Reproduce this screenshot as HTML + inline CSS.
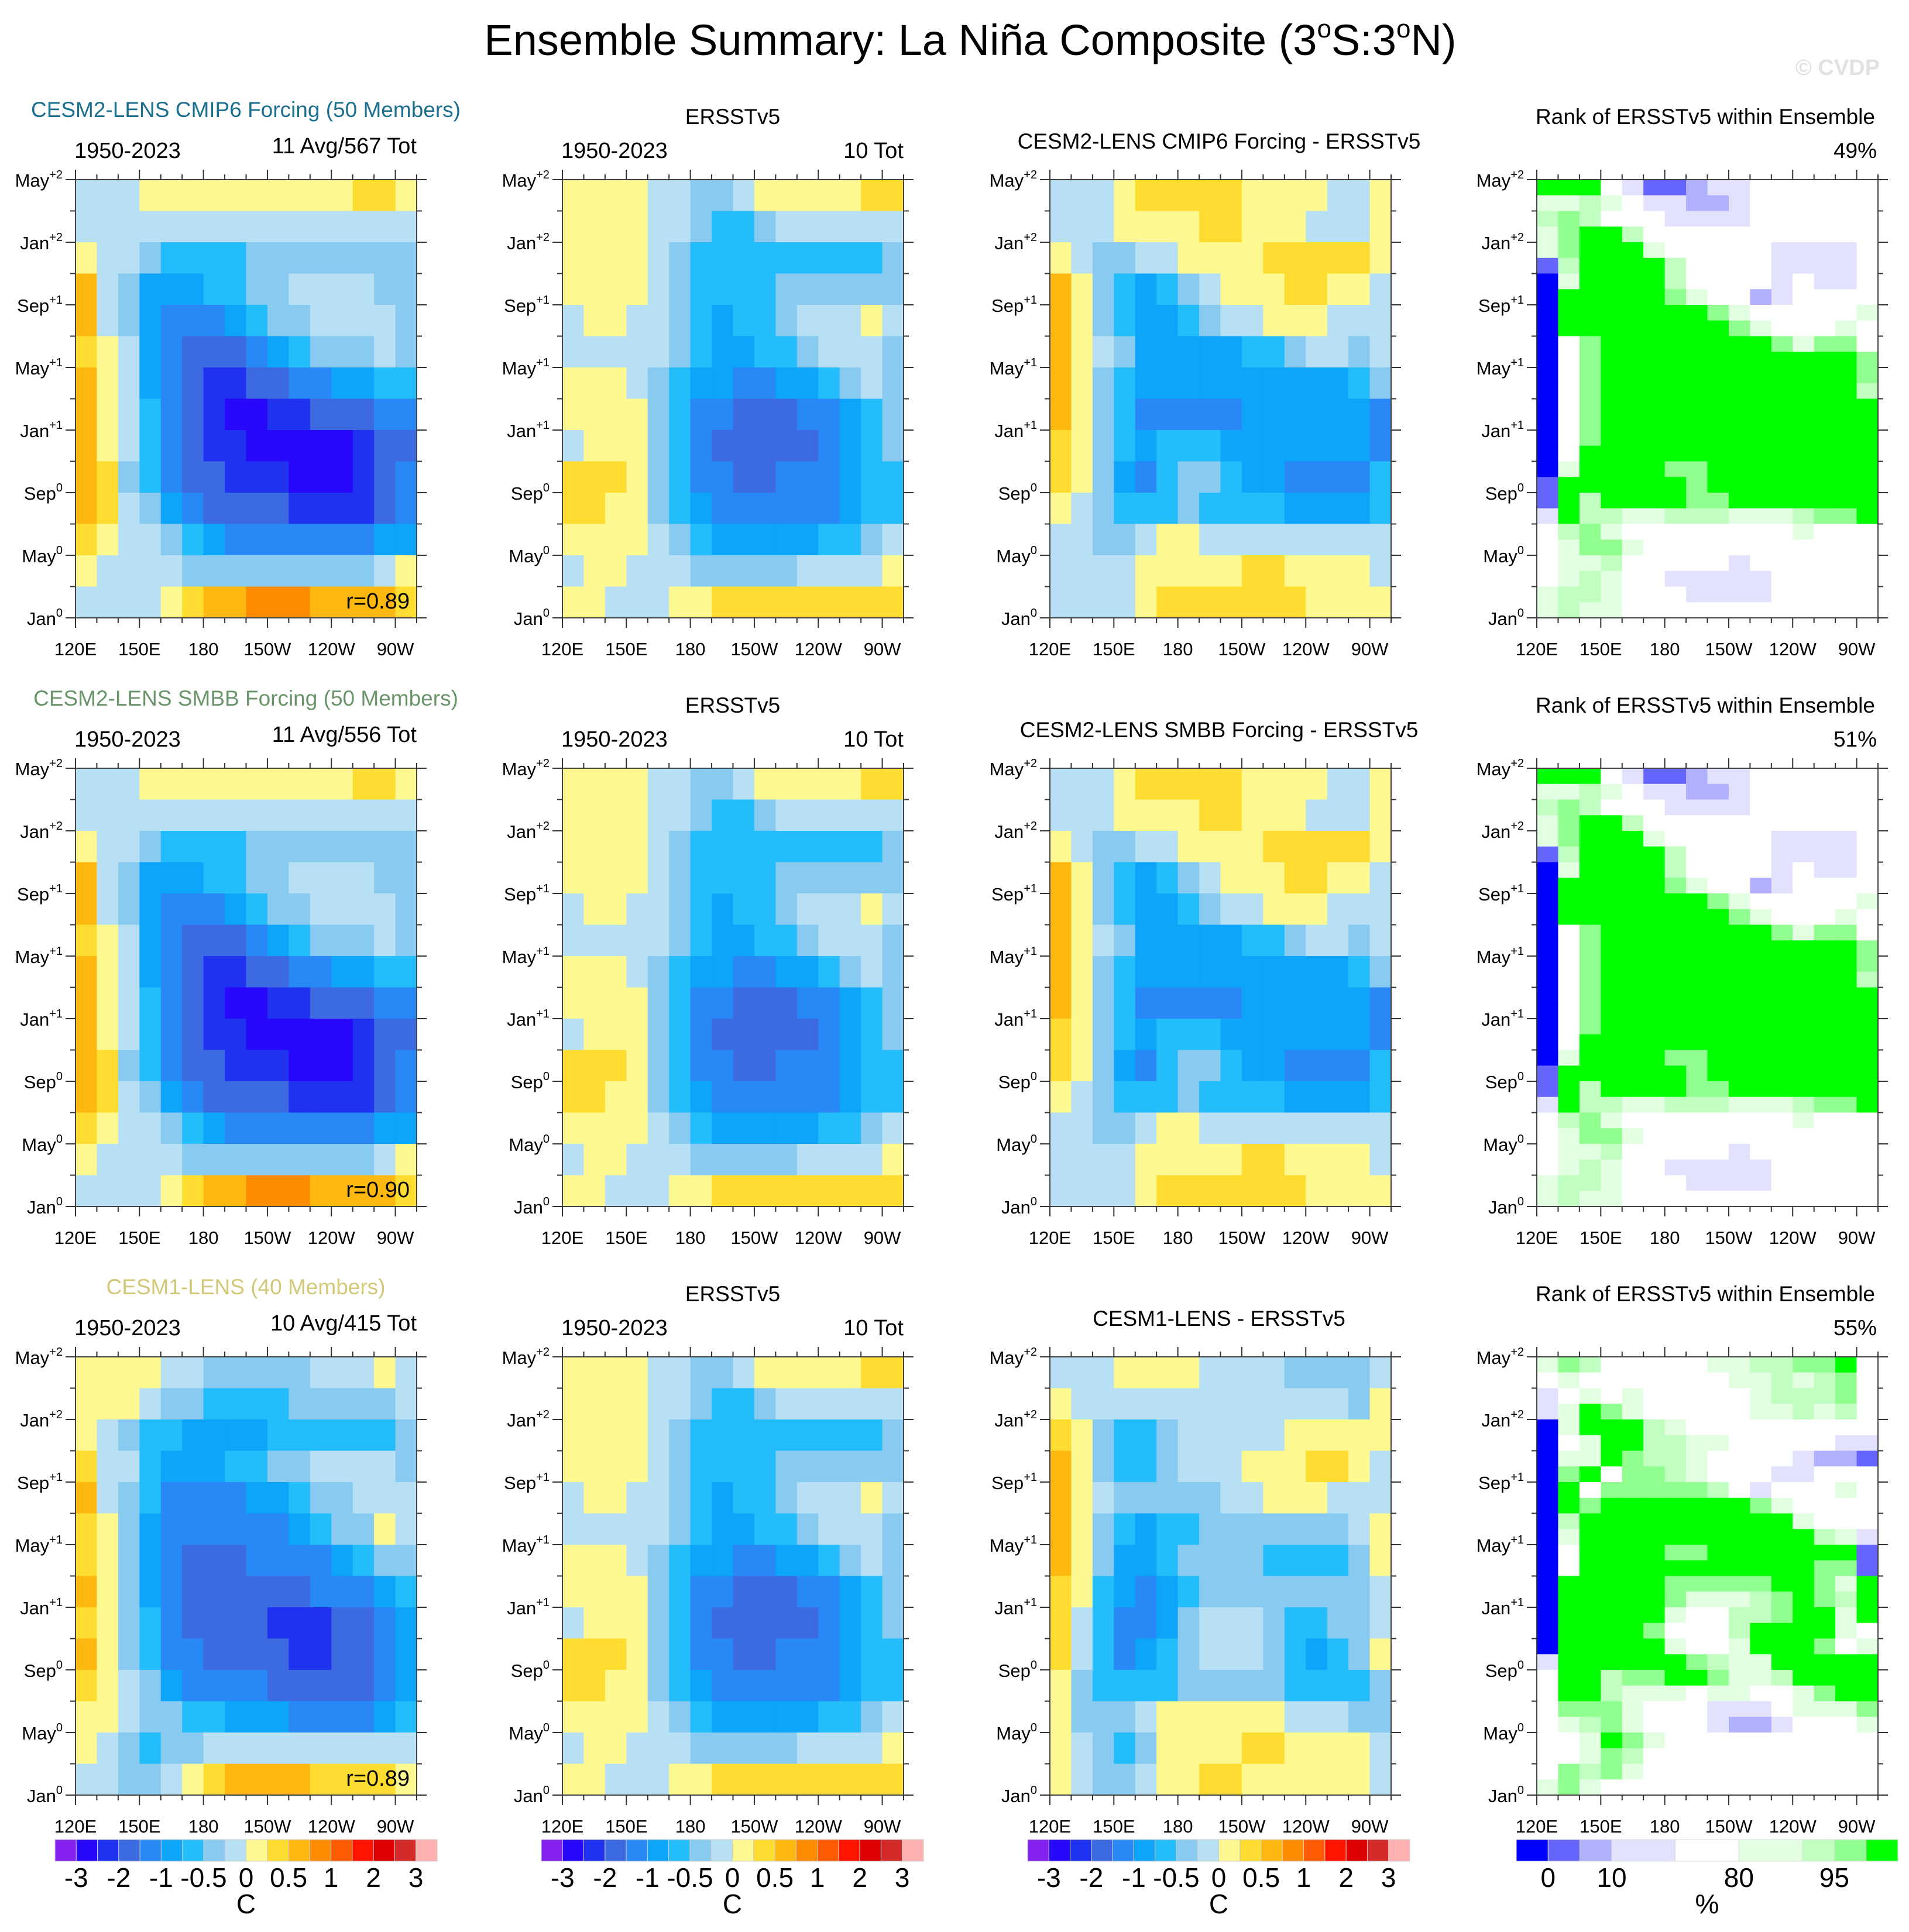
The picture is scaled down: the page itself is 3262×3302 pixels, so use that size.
<!DOCTYPE html>
<html><head><meta charset="utf-8"><title>Ensemble Summary: La Niña Composite</title>
<style>
html,body{margin:0;padding:0;background:#fff;}
svg{display:block;font-family:"Liberation Sans",Arial,sans-serif;}
</style></head>
<body>
<svg id="fig" xmlns="http://www.w3.org/2000/svg" width="3262" height="3302" viewBox="0 0 3262 3302">
<rect x="0" y="0" width="3262" height="3302" fill="#fff"/>
<text x="1658" y="94" font-size="74" text-anchor="middle" fill="#000">Ensemble Summary: La Niña Composite (3<tspan font-size="44" dy="-30">o</tspan><tspan dy="30">S:3</tspan><tspan font-size="44" dy="-30">o</tspan><tspan dy="30">N)</tspan></text>
<text x="3212" y="128" font-size="38" font-weight="bold" text-anchor="end" fill="#e2e2e2">© CVDP</text>
<g id="layer"></g>
</svg>
<script>
// ---- data: temperature level codes (A..R = bins of colorbar, top row = May+2, bottom = Jan0, 16 lon columns 120E..80W)
const tempLevels = [-3,-2.5,-2,-1.5,-1,-0.75,-0.5,-0.25,0,0.25,0.5,0.75,1,1.5,2,2.5,3];
const tempLabels = ["-3","-2","-1","-0.5","0","0.5","1","2","3"];
const tempLabelIdx = [0,2,4,6,8,10,12,14,16];
const tempColors = ["#8420f0","#2808fa","#1e32f0","#3c6ae0","#2888f5","#0ca5fa","#22bdfa","#88caf0","#b8e0f4","#fef890","#ffdc30","#ffb810","#ff8c00","#ff5a00","#ff1400","#dc0000","#d42a2a","#ffb0b0"];
const rankLabels = ["0","10","80","95"];
const rankLabelIdx = [1,3,5,7];
const rankWidths = [1,1,1,2,2,2,1,1,1];
const rankColors = ["#0000ff","#6666ff","#b0b0ff","#e2e2ff","#ffffff","#e2ffe2","#c0ffc0","#90ff90","#00ff00"];

const gridM1 = ["IIIJJJJJJJJJJKKJ","IIIIIIIIIIIIIIII","JIIHGGGGHHHHHHHH","LIHFFFGGHHIIIIHH","LIHFEEEFGHHIIIIH","KJIFEDDDEFGHHHIH","LJIFEDCCDDEEFFGG","LJIGEDCBBCCDDDEE","LJIGEDCCBBBBBCDD","LKHGEDDCCCBBBCDE","LKIHFEDDDDCCCCDE","KJIIHGFEEEEEEEFF","JIIIIHHHHHHHHHIJ","IIIIJKLLMMMLLLLK"];
const gridE = ["JJJJIIHHIJJJJJKK","JJJJIIHGGHIIIIII","JJJJIHGGGGGGGGGH","JJJJIHGGGGHHHHHH","IJJIIHGFGGHIIIJI","IIIIIHGFFGGHIIIH","JJJIHGFFEEFFGHIH","JJJJHGEEDDDEEFGH","IJJJHGEDDDDDEFGH","KKKJHGEEDDEEEFGG","KKJJHGFEEEEEEFGG","JJJJIHGFFFFFGGHI","IJJIIIHHHHHIIIIJ","JJIIIJJKKKKKKKKK"];
const gridD1 = ["IIIJKKKKKJJJJIIJ","IIIJJJJKKJJJIIIJ","JIHHIIJJJJKKKKKJ","LJHGFGHIJJJKKJJI","LJHGFFGHIIJJJIII","LJIHFFFFFGGHIIHI","LJHGFFFFFFFFFFGH","LJHGEEEEEFFFFFFE","KJHGFGGGFFFFFFFE","KJHFEGHHGFFEEEEG","JIHGGGHGGGGFFFFG","IIHHIJJIIIIIIIII","IIIIJJJJJKKJJJJI","IIIIJKKKKKKKJJJJ"];
const gridM3 = ["JJJJIIHHHHHIIIJI","JJJIHHGGGGHHHHHI","JIHGGFFFFGGGGGGH","KIIGFFFGGHHIIIIH","LIHGEEEEFFGHHIII","KJHFEEEEEEFGHHJI","KJHFEDDDEEEEFGHH","LJHFEDDDDDDEEEFG","KJHGEDDDDCCCDDEF","LJHGEEDDDDCCDDEF","KJIHFEEEEDDDDDEF","JJIHHGGFFFEEEEFG","JIHGHHIIIIIIIIII","IIHHIJKLLLLKKKKJ"];
const gridD3 = ["IIIJJJJIIIIHHHHI","JIIIIIIIIIIIIIHJ","KJHGGHIIIIIJJJJJ","LJHGGHIIIJJJKKJI","LJIHHHHHIIJJJIII","LJHGFGGHHHHHHHIJ","LJHFFGHHHHGGGGHJ","KJGFEFGHHHHHHHHI","KIGEEFHIIIHGGHHI","KIGEFGHIIIHGFGHJ","JHGGGGHHHHHGGGGH","JHHHIJJJJJJIIIHH","JIHGHJJJJKKJJJJI","JIHHIJJKKJJJJJJI"];
// rank codes 0..8 (0 = <0%, 4 = white, 8 = >=99%), 28 monthly rows top->bottom
const gridR1 = ["8884311233444444","5565433223444444","6764443333444444","5788644444444444","5788854444433334","1688886444433334","0588886444434334","0888887544234444","0888888875444445","0888888887544454","0478888888875774","0478888888888887","0478888888888887","0478888888888886","0478888888888888","0478888888888888","0478888888888888","0488888888888888","0588887788888888","1888888788888888","1868888778888888","3866556665556778","4675444444445444","4577544444444444","4556444443444444","4565443333344444","5665444333344444","5655444444444444"];
const gridR3 = ["5764444455667784","4544444445565674","3454544444566674","3587544444556564","0588865444444444","0458866554444433","0558766544443221","0784776544433444","0847777764344454","0878888888754444","0688888888885444","0588888888888653","0488887788888881","0488888888888771","0888887777788758","0888887555678768","0888885446678858","0888874446888854","0888885445888745","3888888765588888","4886778875568888","4886555455445788","4777544433345557","4567544432234445","4458754444444444","4457644444444444","4767544444444444","5754444444444444"];

const rowHeaders = ["CESM2-LENS CMIP6 Forcing (50 Members)","CESM2-LENS SMBB Forcing (50 Members)","CESM1-LENS (40 Members)"];
const rowHeaderColors = ["#1b6f8f","#6a956a","#d2c878"];
const diffTitles = ["CESM2-LENS CMIP6 Forcing - ERSSTv5","CESM2-LENS SMBB Forcing - ERSSTv5","CESM1-LENS - ERSSTv5"];
const avgTot = ["11 Avg/567 Tot","11 Avg/556 Tot","10 Avg/415 Tot"];
const corrVals = ["r=0.89","r=0.90","r=0.89"];
const rankPct = ["49%","51%","55%"];
const lonTicks = [120,150,180,210,240,270];
const lonTickLabels = ["120E","150E","180","150W","120W","90W"];
const monthTicks = [0,4,8,12,16,20,24,28];
const monthNames = ["Jan","May","Sep","Jan","May","Sep","Jan","May"];
const monthSups = ["0","0","0","+1","+1","+1","+2","+2"];

const NS="http://www.w3.org/2000/svg";
const layer=document.getElementById('layer');
function mk(tag,attrs,parent){const e=document.createElementNS(NS,tag);for(const k in attrs)e.setAttribute(k,attrs[k]);(parent||layer).appendChild(e);return e;}
const colX=[129,961,1794,2626], rowY=[307,1313,2319], PW=583, PH=749;
const LON0=120, LON1=280, MON=28;
function xScale(left,lon){return left+(lon-LON0)/(LON1-LON0)*PW;}
function yScale(top,m){return top+PH-(m/MON)*PH;}

function drawGrid(g,left,top,grid,colors,decode){
  const nr=grid.length,nc=grid[0].length;
  const cw=(LON1-LON0)/nc, rh=MON/nr;
  for(let r=0;r<nr;r++)for(let c=0;c<nc;c++){
    const k=decode(grid[r][c]);
    const x0=xScale(left,LON0+c*cw), x1=xScale(left,LON0+(c+1)*cw);
    const y0=yScale(top,MON-r*rh), y1=yScale(top,MON-(r+1)*rh);
    const rc=mk('rect',{x:x0.toFixed(2),y:y0.toFixed(2),width:(x1-x0+0.6).toFixed(2),height:(y1-y0+0.6).toFixed(2),fill:colors[k]},g);
    
    
  }
}
const decT=ch=>ch.charCodeAt(0)-65;
const decR=ch=>+ch;

function drawAxes(g,left,top){
  const b=top+PH;
  mk('rect',{x:left,y:top,width:PW,height:PH,fill:'none',stroke:'#444','stroke-width':2},g);
  for(let lon=120;lon<=280;lon+=10){
    const x=xScale(left,lon); const major=(lon-120)%30===0; const L=major?17:9;
    mk('line',{x1:x,y1:b,x2:x,y2:b+L,stroke:'#333','stroke-width':2},g);
    mk('line',{x1:x,y1:top,x2:x,y2:top-L,stroke:'#333','stroke-width':2},g);
  }
  for(let m=0;m<=28;m+=2){
    const y=yScale(top,m); const major=m%4===0; const L=major?17:9;
    mk('line',{x1:left,y1:y,x2:left-L,y2:y,stroke:'#333','stroke-width':2},g);
    mk('line',{x1:left+PW,y1:y,x2:left+PW+L,y2:y,stroke:'#333','stroke-width':2},g);
  }
  lonTicks.forEach((lon,i)=>{
    const t=mk('text',{x:xScale(left,lon),y:b+64,'font-size':31,'text-anchor':'middle',fill:'#000'},g);
    t.textContent=lonTickLabels[i];
    
    
  });
  monthTicks.forEach((m,i)=>{
    const y=yScale(top,m);
    const t=mk('text',{x:left-22,y:y+12,'font-size':31,'text-anchor':'end',fill:'#000'},g);
    
    
    const s1=mk('tspan',{},t); s1.textContent=monthNames[i];
    const s2=mk('tspan',{'font-size':20,dy:-14},t); s2.textContent=monthSups[i];
  });
}
function txt(parent,x,y,s,size,anchor,fill,name){
  const t=mk('text',{x:x,y:y,'font-size':size,'text-anchor':anchor,fill:fill||'#000'},parent);
  t.textContent=s;
  
  
  return t;
}

const modelGrids=[gridM1,gridM1,gridM3], diffGrids=[gridD1,gridD1,gridD3], rankGrids=[gridR1,gridR1,gridR3];
for(let r=0;r<3;r++){
  const top=rowY[r], dy=r*1006;
  for(let c=0;c<4;c++){
    const left=colX[c];
    const g=mk('g',{});
    
    
    if(c===0) drawGrid(g,left,top,modelGrids[r],tempColors,decT);
    if(c===1) drawGrid(g,left,top,gridE,tempColors,decT);
    if(c===2) drawGrid(g,left,top,diffGrids[r],tempColors,decT);
    if(c===3) drawGrid(g,left,top,rankGrids[r],rankColors,decR);
    drawAxes(g,left,top);
    if(c===0){
      txt(g,420,200+dy,rowHeaders[r],37,'middle',rowHeaderColors[r],'row-header');
      txt(g,127,270+dy,'1950-2023',38,'start','#000','period-label');
      txt(g,712,262+dy,avgTot[r],38,'end','#000','member-count');
      txt(g,700,1040+dy,corrVals[r],38,'end','#000','pattern-correlation');
    }
    if(c===1){
      txt(g,1252,212+dy,'ERSSTv5',37,'middle','#000','obs-title');
      txt(g,959,270+dy,'1950-2023',38,'start','#000','period-label');
      txt(g,1544,270+dy,'10 Tot',38,'end','#000','member-count');
    }
    if(c===2){
      txt(g,2083,254+dy,diffTitles[r],37,'middle','#000','diff-title');
    }
    if(c===3){
      txt(g,2914,212+dy,'Rank of ERSSTv5 within Ensemble',37,'middle','#000','rank-title');
      txt(g,3207,270+dy,rankPct[r],37,'end','#000','rank-percent');
    }
  }
}
// temperature colorbars
const cbY=3144, cbH=37;
for(let c=0;c<3;c++){
  const x0=94+c*831, W=653, n=tempColors.length, bw=W/n;
  const g=mk('g',{});
  
  
  tempColors.forEach((col,i)=>{
    const rc=mk('rect',{x:x0+i*bw,y:cbY,width:bw,height:cbH,fill:col,stroke:'#ccc','stroke-width':1},g);
    
    
  });
  tempLabelIdx.forEach((li,i)=>{
    txt(g,x0+(li+1)*bw,3225,tempLabels[i],46,'middle','#000','colorbar-label');
  });
  txt(g,x0+9*bw,3270,'C',46,'middle','#000','colorbar-units');
}
// rank colorbar
{
  const x0=2591, W=652, unit=W/rankWidths.reduce((a,b)=>a+b,0);
  const g=mk('g',{});
  
  
  let acc=0; const bounds=[0];
  rankColors.forEach((col,i)=>{
    const rc=mk('rect',{x:x0+acc*unit,y:cbY,width:rankWidths[i]*unit,height:cbH,fill:col,stroke:'#ddd','stroke-width':1},g);
    
    
    acc+=rankWidths[i]; bounds.push(acc);
  });
  rankLabelIdx.forEach((bi,i)=>{
    txt(g,x0+bounds[bi]*unit,3225,rankLabels[i],46,'middle','#000','colorbar-label');
  });
  txt(g,x0+6*unit,3270,'%',46,'middle','#000','colorbar-units');
}
</script>
</body></html>
